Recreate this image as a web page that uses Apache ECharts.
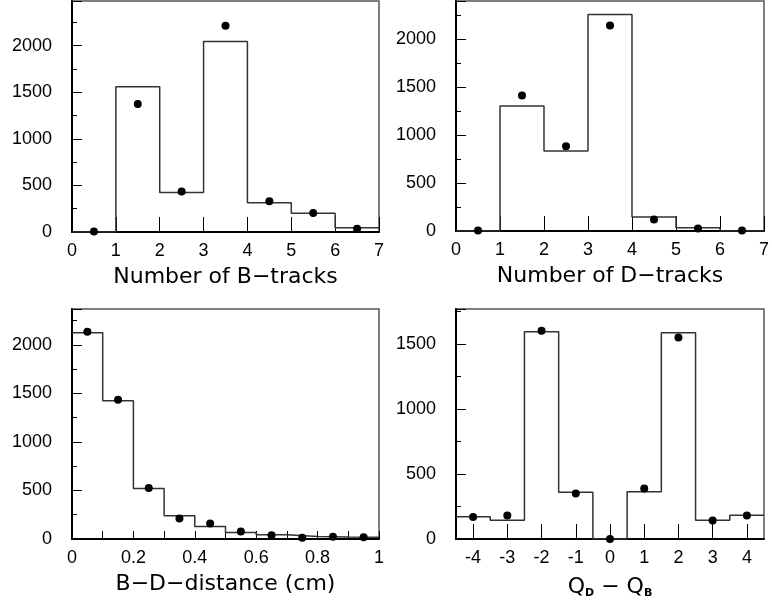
<!DOCTYPE html>
<html>
<head>
<meta charset="utf-8">
<script src="https://cdn.jsdelivr.net/npm/echarts@6/dist/echarts.min.js"></script>
<style>
  html, body { margin: 0; padding: 0; background: #fff; }
  #chart { width: 772px; height: 604px; }
</style>
</head>
<body>
<div id="chart"></div>
<script>
// bin edges and contents
const bTrackEdges = [0, 1, 2, 3, 4, 5, 6, 7];
const bTrackMC = [0, 1560, 425, 2045, 315, 200, 45];
const bTrackData = [5, 1375, 435, 2215, 330, 205, 35];

const dTrackEdges = [0, 1, 2, 3, 4, 5, 6, 7];
const dTrackMC = [0, 1305, 835, 2260, 145, 35, 0];
const dTrackData = [5, 1415, 885, 2145, 120, 25, 5];

const distEdges = [0, 0.1, 0.2, 0.3, 0.4, 0.5, 0.6, 0.7, 0.8, 0.9, 1.0];
const distMC = [2125, 1425, 520, 240, 130, 68, 43, 27, 20, 17];
const distData = [2135, 1435, 525, 212, 160, 78, 38, 14, 24, 17];

const qEdges = [-4.5, -3.5, -2.5, -1.5, -0.5, 0.5, 1.5, 2.5, 3.5, 4.5];
const qMC = [172, 145, 1595, 360, 0, 364, 1588, 145, 182];
const qData = [170, 180, 1603, 351, 0, 388, 1550, 142, 180];
const qTicks = [-4, -3, -2, -1, 0, 1, 2, 3, 4];

// histogram outline: one point per left edge + closing point at the last edge
function stepData(edges, heights) {
  const out = [];
  for (let i = 0; i < heights.length; i++) out.push([edges[i], heights[i]]);
  out.push([edges[edges.length - 1], heights[heights.length - 1]]);
  return out;
}
function pointData(edges, values) {
  return values.map((v, i) => [(edges[i] + edges[i + 1]) / 2, v]);
}

const labelFont = { color: '#000', fontFamily: 'Liberation Sans', fontSize: 18 };
const nameFont = { color: '#000', fontFamily: 'DejaVu Sans', fontSize: 22 };

function yAxis(idx, max) {
  return {
    type: 'value', gridIndex: idx, min: 0, max: max, interval: 500,
    axisLine: { show: true, onZero: false, lineStyle: { color: '#000', width: 2 } },
    axisTick: { inside: true, length: 10, lineStyle: { color: '#000' } },
    minorTick: { show: true, splitNumber: 2, length: 5, lineStyle: { color: '#000' } },
    axisLabel: Object.assign({ margin: 20, showMaxLabel: false, formatter: v => String(v) }, labelFont),
    splitLine: { show: false }
  };
}

const grids = [
  { left: 72, top: 1, width: 307, height: 231 },
  { left: 456, top: 1, width: 308, height: 230 },
  { left: 72, top: 309, width: 307, height: 230 },
  { left: 456, top: 309, width: 308, height: 230 }
].map(g => Object.assign({ show: true, borderColor: '#555', borderWidth: 1.5, backgroundColor: 'transparent' }, g));

const xBase = {
  type: 'value',
  axisLine: { show: true, onZero: false, lineStyle: { color: '#000', width: 2 } },
  axisTick: { inside: true, length: 15, lineStyle: { color: '#000' } },
  axisLabel: Object.assign({ margin: 10 }, labelFont),
  splitLine: { show: false },
  nameLocation: 'middle',
  nameGap: 34,
  nameTextStyle: nameFont
};

const option = {
  animation: false,
  grid: grids,
  xAxis: [
    Object.assign({}, xBase, { gridIndex: 0, min: 0, max: 7, interval: 1, name: 'Number of B\u2212tracks' }),
    Object.assign({}, xBase, { gridIndex: 1, min: 0, max: 7, interval: 1, name: 'Number of D\u2212tracks' }),
    Object.assign({}, xBase, {
      gridIndex: 2, min: 0, max: 1, interval: 0.2, name: 'B\u2212D\u2212distance (cm)',
      axisTick: { inside: true, length: 8, lineStyle: { color: '#000' } },
      minorTick: { show: true, splitNumber: 2, length: 8, lineStyle: { color: '#000' } },
      axisLabel: Object.assign({ margin: 10, formatter: v => String(+v.toFixed(1)) }, labelFont)
    }),
    Object.assign({}, xBase, {
      gridIndex: 3, min: -4.5, max: 4.5, name: '{a|Q}{s|D}{a| \u2212 Q}{s|B}',
      axisTick: { inside: true, length: 15, customValues: qTicks, lineStyle: { color: '#000' } },
      axisLabel: Object.assign({ margin: 10, customValues: qTicks }, labelFont),
      nameTextStyle: Object.assign({}, nameFont, {
        rich: {
          a: { fontFamily: 'DejaVu Sans', fontSize: 22, color: '#000', lineHeight: 28 },
          s: { fontFamily: 'DejaVu Sans', fontSize: 11, color: '#000', fontWeight: 'bold', lineHeight: 28, padding: [12, 0, 0, 0] }
        }
      })
    })
  ],
  yAxis: [yAxis(0, 2480), yAxis(1, 2400), yAxis(2, 2370), yAxis(3, 1770)],
  series: []
};

const sets = [
  [bTrackEdges, bTrackMC, bTrackData],
  [dTrackEdges, dTrackMC, dTrackData],
  [distEdges, distMC, distData],
  [qEdges, qMC, qData]
];
sets.forEach(([edges, mc, data], i) => {
  option.series.push({
    type: 'line', xAxisIndex: i, yAxisIndex: i, step: 'end',
    data: stepData(edges, mc), showSymbol: false, symbol: 'none',
    lineStyle: { color: '#333', width: 1.5 }, z: 2
  });
  option.series.push({
    type: 'scatter', xAxisIndex: i, yAxisIndex: i,
    data: pointData(edges, data), symbolSize: 8,
    itemStyle: { color: '#000', opacity: 1 }, z: 3
  });
});

const myChart = echarts.init(document.getElementById('chart'));
myChart.setOption(option);
</script>
</body>
</html>
